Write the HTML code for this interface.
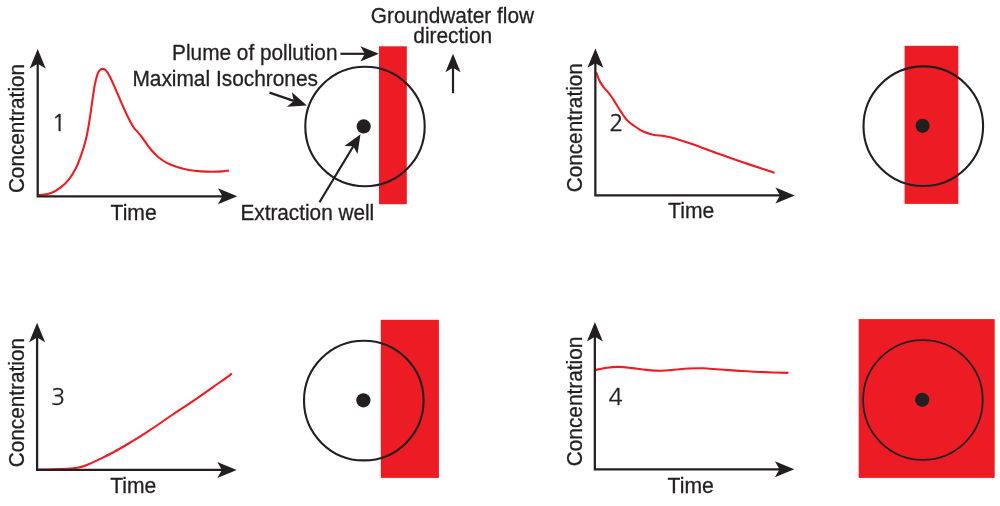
<!DOCTYPE html>
<html><head><meta charset="utf-8"><title>Concentration curves</title>
<style>
html,body{margin:0;padding:0;background:#fff;}
svg{display:block;}
text{font-family:"Liberation Sans",Arial,Helvetica,sans-serif;fill:#231f20;stroke:#231f20;stroke-width:0.3px;}
text.num{font-family:"NanumGothic","Liberation Sans",sans-serif;stroke-width:0.3px;}
</style></head>
<body>
<svg width="1000" height="506" viewBox="0 0 1000 506">
<rect width="1000" height="506" fill="#fff"/>
<rect x="379.0" y="46.3" width="27.8" height="157.9" fill="#ed1c24"/>
<path d="M38.5 195.2 C40.6 194.8 47.4 194.2 51.1 192.9 C54.8 191.6 57.8 189.7 60.8 187.4 C63.8 185.1 66.6 182.3 69.1 179.1 C71.6 175.9 73.9 172.2 76.0 168.0 C78.1 163.8 79.9 158.8 81.5 154.2 C83.1 149.6 84.5 144.9 85.7 140.3 C86.9 135.7 87.7 131.1 88.5 126.5 C89.3 121.9 90.0 117.2 90.7 112.6 C91.4 108.0 91.9 103.4 92.6 98.8 C93.3 94.2 94.0 89.1 94.8 84.9 C95.6 80.7 96.7 76.3 97.6 73.8 C98.5 71.3 99.5 70.5 100.4 69.7 C101.3 68.9 102.1 68.7 103.1 68.9 C104.1 69.1 105.2 69.6 106.5 71.1 C107.8 72.6 109.0 74.7 110.6 78.0 C112.2 81.3 114.4 86.5 116.3 90.8 C118.2 95.1 120.0 99.5 121.9 103.8 C123.8 108.1 125.8 112.8 127.8 116.7 C129.8 120.7 132.2 125.1 133.7 127.5 C135.2 129.9 135.5 129.6 136.7 130.9 C137.8 132.2 139.1 133.5 140.6 135.4 C142.1 137.3 143.8 139.9 145.6 142.4 C147.4 144.9 149.4 147.8 151.5 150.3 C153.6 152.8 155.8 155.1 158.4 157.2 C161.0 159.3 164.2 161.4 167.3 163.1 C170.4 164.8 173.6 165.9 177.2 167.1 C180.8 168.2 185.1 169.3 189.0 170.0 C192.9 170.7 197.0 171.1 200.9 171.4 C204.8 171.7 209.1 171.8 212.7 171.8 C216.3 171.8 219.9 171.6 222.6 171.4 C225.3 171.2 227.8 170.7 228.9 170.6" fill="none" stroke="#ed1c24" stroke-width="2.1" stroke-linecap="butt"/>
<path d="M37.70 61.3 V196.25 H225.0" fill="none" stroke="#231f20" stroke-width="2.25" stroke-linejoin="miter"/><path d="M37.7 49.0 L45.7 68.4 L37.7 63.8 L29.7 68.4 Z" fill="#231f20"/><path d="M237.3 196.2 L217.9 188.2 L222.5 196.2 L217.9 204.2 Z" fill="#231f20"/>
<text transform="translate(24.47 193.11) rotate(-90)" font-size="22" textLength="129.20" lengthAdjust="spacingAndGlyphs">Concentration</text>
<text x="110.57" y="219.98" font-size="22" textLength="46.14" lengthAdjust="spacingAndGlyphs">Time</text>
<text class="num" x="58.8" y="131.0" font-size="23.5" text-anchor="middle">1</text>
<circle cx="365.0" cy="126.5" r="59.7" fill="none" stroke="#231f20" stroke-width="2.1"/>
<circle cx="363.7" cy="126.4" r="7.1" fill="#231f20"/>
<text x="172.12" y="59.90" font-size="22" textLength="165.37" lengthAdjust="spacingAndGlyphs">Plume of pollution</text>
<text x="132.41" y="85.70" font-size="22" textLength="185.63" lengthAdjust="spacingAndGlyphs">Maximal Isochrones</text>
<text x="240.41" y="219.61" font-size="22" textLength="133.82" lengthAdjust="spacingAndGlyphs">Extraction well</text>
<text x="370.84" y="22.88" font-size="22" textLength="163.17" lengthAdjust="spacingAndGlyphs">Groundwater flow</text>
<text x="413.28" y="43.36" font-size="22" textLength="78.94" lengthAdjust="spacingAndGlyphs">direction</text>
<line x1="340.4" y1="53.8" x2="364.9" y2="53.8" stroke="#231f20" stroke-width="2.2"/><path d="M378.9 53.8 L360.4 46.2 L364.9 53.8 L360.4 61.4 Z" fill="#231f20"/>
<line x1="269.5" y1="92.6" x2="293.7" y2="100.9" stroke="#231f20" stroke-width="2.2"/><path d="M306.9 105.5 L291.9 92.3 L293.7 100.9 L286.9 106.7 Z" fill="#231f20"/>
<line x1="319.5" y1="202.3" x2="353.3" y2="146.2" stroke="#231f20" stroke-width="2.2"/><path d="M360.5 134.2 L344.4 146.1 L353.3 146.2 L357.5 154.0 Z" fill="#231f20"/>
<line x1="453.0" y1="93.2" x2="453.0" y2="67.7" stroke="#231f20" stroke-width="2.2"/><path d="M453.0 53.7 L445.4 72.2 L453.0 67.7 L460.6 72.2 Z" fill="#231f20"/>
<rect x="904.6" y="45.8" width="53.7" height="158.1" fill="#ed1c24"/>
<path d="M596.3 72.3 C596.7 73.3 597.6 76.5 598.5 78.5 C599.4 80.5 600.6 82.7 601.6 84.4 C602.6 86.1 603.7 87.3 604.8 88.6 C605.9 89.9 607.0 90.9 608.0 92.1 C609.0 93.3 609.9 94.5 611.0 96.0 C612.1 97.5 612.8 98.5 614.4 101.1 C616.0 103.7 618.8 108.3 620.8 111.4 C622.8 114.5 624.4 117.2 626.5 119.6 C628.6 122.0 631.0 123.7 633.7 125.6 C636.4 127.5 639.5 129.7 642.7 131.2 C645.9 132.7 649.4 134.0 653.0 134.8 C656.6 135.6 660.9 135.5 664.5 136.1 C668.1 136.7 670.1 137.0 674.8 138.4 C679.5 139.8 685.5 141.7 692.8 144.3 C700.1 146.9 709.9 150.7 718.5 153.8 C727.1 156.9 734.9 159.6 744.2 162.8 C753.6 166.0 769.5 171.1 774.6 172.8" fill="none" stroke="#ed1c24" stroke-width="2.1" stroke-linecap="butt"/>
<path d="M595.35 60.7 V195.45 H782.5" fill="none" stroke="#231f20" stroke-width="2.25" stroke-linejoin="miter"/><path d="M595.4 48.4 L603.4 67.8 L595.4 63.2 L587.4 67.8 Z" fill="#231f20"/><path d="M794.8 195.4 L775.4 187.4 L780.0 195.4 L775.4 203.4 Z" fill="#231f20"/>
<text transform="translate(581.97 192.28) rotate(-90)" font-size="22" textLength="129.10" lengthAdjust="spacingAndGlyphs">Concentration</text>
<text x="668.12" y="218.11" font-size="22" textLength="46.04" lengthAdjust="spacingAndGlyphs">Time</text>
<text class="num" x="616.3" y="130.6" font-size="23.5" text-anchor="middle">2</text>
<circle cx="923.3" cy="126.2" r="59.8" fill="none" stroke="#231f20" stroke-width="2.1"/>
<circle cx="922.6" cy="125.8" r="7.1" fill="#231f20"/>
<rect x="380.8" y="319.8" width="58.1" height="158.1" fill="#ed1c24"/>
<path d="M37.1 469.6 C39.9 469.6 48.6 469.5 53.7 469.4 C58.8 469.3 63.8 469.1 67.9 468.8 C72.1 468.5 75.4 468.1 78.6 467.5 C81.8 466.9 83.6 466.2 86.9 464.9 C90.2 463.6 94.4 461.7 98.7 459.6 C103.0 457.5 107.9 455.3 113.0 452.5 C118.1 449.7 123.6 446.6 129.5 443.0 C135.4 439.4 141.4 435.8 148.5 431.1 C155.6 426.4 164.3 420.3 172.2 415.0 C180.1 409.7 188.0 404.5 195.9 399.1 C203.8 393.7 213.6 386.7 219.6 382.5 C225.6 378.3 229.8 375.2 231.9 373.7" fill="none" stroke="#ed1c24" stroke-width="2.1" stroke-linecap="butt"/>
<path d="M37.10 335.1 V469.95 H224.4" fill="none" stroke="#231f20" stroke-width="2.25" stroke-linejoin="miter"/><path d="M37.1 322.8 L45.1 342.2 L37.1 337.6 L29.1 342.2 Z" fill="#231f20"/><path d="M236.7 469.9 L217.3 461.9 L221.9 469.9 L217.3 477.9 Z" fill="#231f20"/>
<text transform="translate(24.47 467.20) rotate(-90)" font-size="22" textLength="129.20" lengthAdjust="spacingAndGlyphs">Concentration</text>
<text x="110.23" y="492.86" font-size="22" textLength="46.02" lengthAdjust="spacingAndGlyphs">Time</text>
<text class="num" x="58.0" y="405.4" font-size="23.5" text-anchor="middle">3</text>
<circle cx="363.8" cy="400.6" r="59.8" fill="none" stroke="#231f20" stroke-width="2.1"/>
<circle cx="363.4" cy="400.3" r="7.1" fill="#231f20"/>
<rect x="858.7" y="319.1" width="136.0" height="158.8" fill="#ed1c24"/>
<path d="M595.9 369.9 C597.7 369.5 602.9 368.2 606.8 367.7 C610.7 367.2 615.2 366.8 619.4 366.9 C623.6 367.0 627.5 367.6 632.0 368.1 C636.5 368.6 641.8 369.5 646.7 369.9 C651.6 370.4 656.5 370.9 661.4 370.8 C666.3 370.7 671.5 369.9 676.1 369.5 C680.7 369.1 684.2 368.7 688.7 368.5 C693.2 368.3 698.1 368.1 703.4 368.3 C708.6 368.5 713.9 369.1 720.2 369.5 C726.5 369.9 733.9 370.6 741.2 371.0 C748.6 371.4 756.4 371.8 764.3 372.1 C772.2 372.4 784.4 372.8 788.4 372.9" fill="none" stroke="#ed1c24" stroke-width="2.1" stroke-linecap="butt"/>
<path d="M594.85 334.3 V469.30 H782.0" fill="none" stroke="#231f20" stroke-width="2.25" stroke-linejoin="miter"/><path d="M594.9 322.0 L602.9 341.4 L594.9 336.8 L586.9 341.4 Z" fill="#231f20"/><path d="M794.3 469.3 L774.9 461.3 L779.5 469.3 L774.9 477.3 Z" fill="#231f20"/>
<text transform="translate(581.97 466.34) rotate(-90)" font-size="22" textLength="129.79" lengthAdjust="spacingAndGlyphs">Concentration</text>
<text x="667.61" y="492.98" font-size="22" textLength="46.22" lengthAdjust="spacingAndGlyphs">Time</text>
<text class="num" x="615.6" y="404.7" font-size="23.5" text-anchor="middle">4</text>
<circle cx="922.9" cy="400.0" r="59.8" fill="none" stroke="#231f20" stroke-width="1.8"/>
<circle cx="922.2" cy="399.8" r="7.1" fill="#231f20"/>
</svg>
</body></html>
